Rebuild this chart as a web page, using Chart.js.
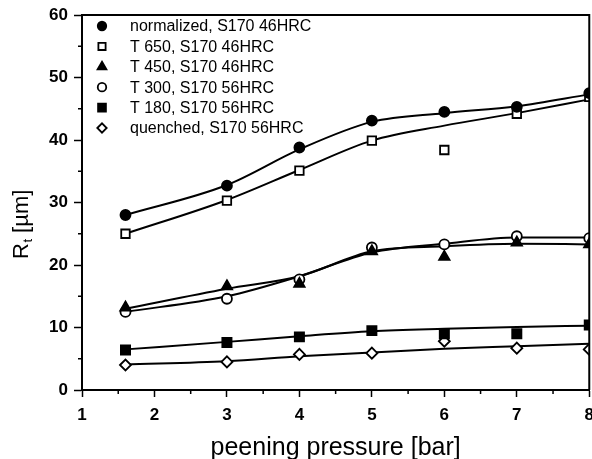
<!DOCTYPE html>
<html><head><meta charset="utf-8">
<script src="https://cdn.jsdelivr.net/npm/chart.js@4/dist/chart.umd.min.js"></script>
<style>html,body{margin:0;padding:0;background:#fff;overflow:hidden}#wrap{width:592px;height:459px;position:relative;overflow:hidden}canvas{display:block}</style>
</head><body><div id="wrap"><canvas id="c" width="592" height="459"></canvas></div>
<script>
// ---- data ----
const pressure = [1.6, 3, 4, 5, 6, 7, 8];
const seriesNames = ["normalized, S170 46HRC", "T 650, S170 46HRC", "T 450, S170 46HRC",
                     "T 300, S170 56HRC", "T 180, S170 56HRC", "quenched, S170 56HRC"];
const normalized = [28.0, 32.7, 38.8, 43.1, 44.5, 45.3, 47.5];
const t650       = [25.0, 30.3, 35.1, 39.9, 38.4, 44.2, 46.9];
const t450       = [13.2, 16.6, 17.0, 22.2, 21.3, 23.6, 23.3];
const t300       = [12.5, 14.6, 17.7, 22.8, 23.3, 24.6, 24.3];
const t180       = [6.4, 7.6, 8.5, 9.5, 9.0, 9.0, 10.4];
const quenched   = [4.0, 4.5, 5.7, 5.9, 7.8, 6.7, 6.5];
// fitted curves (values of each curve at the same pressures)
const fitNormalized = [28.0, 32.8, 38.5, 42.9, 44.3, 45.4, 47.3];
const fitT650       = [25.0, 30.4, 35.2, 39.9, 42.3, 44.3, 46.5];
const fitT450       = [13.0, 16.2, 18.2, 22.2, 23.0, 23.4, 23.3];
const fitT300       = [12.5, 15.0, 18.2, 22.0, 23.4, 24.4, 24.4];
const fitT180       = [6.5, 7.7, 8.6, 9.4, 9.8, 10.1, 10.3];
const fitQuenched   = [4.1, 4.6, 5.4, 6.0, 6.6, 7.0, 7.4];
const xTickValues = [1, 2, 3, 4, 5, 6, 7, 8];
const yTickValues = [0, 10, 20, 30, 40, 50, 60];
const xTitle = "peening pressure [bar]";

// ---- build datasets ----
const pts = arr => arr.map((v, i) => ({x: pressure[i], y: v}));
const markerStyles = [
  {pointStyle: 'circle',  fill: '#000', radius: 5},
  {pointStyle: 'rect',    fill: '#fff', radius: 6},
  {pointStyle: 'triangle',fill: '#000', radius: 6},
  {pointStyle: 'circle',  fill: '#fff', radius: 5},
  {pointStyle: 'rect',    fill: '#000', radius: 6.5},
  {pointStyle: 'rectRot', fill: '#fff', radius: 5.5}
];
const pointSeries = [normalized, t650, t450, t300, t180, quenched];
const fitSeries = [fitNormalized, fitT650, fitT450, fitT300, fitT180, fitQuenched];
function buildDatasets() {
  const datasets = [];
  pointSeries.forEach((s, i) => {
    const m = markerStyles[i];
    datasets.push({
      label: seriesNames[i], data: pts(s), showLine: false, order: 1,
      pointStyle: m.pointStyle, pointRadius: m.radius, pointHoverRadius: m.radius,
      pointBackgroundColor: m.fill, pointBorderColor: '#000', pointBorderWidth: 1.8,
      clip: {left: 8, top: 8, right: 0, bottom: 8}
    });
  });
  fitSeries.forEach((s, i) => {
    datasets.push({
      label: 'fit ' + seriesNames[i], data: pts(s), showLine: true, order: 2,
      pointRadius: 0, borderColor: '#000', borderWidth: 2,
      cubicInterpolationMode: 'monotone', fill: false
    });
  });
  return datasets;
}

const FONT = "'Liberation Sans', Arial, Helvetica, sans-serif";
const PLOT_RIGHT = 589;

const extras = {
  id: 'extras',
  afterDraw(chart) {
    const ctx = chart.ctx, a = chart.chartArea;
    const xs = chart.scales.x, ys = chart.scales.y;
    ctx.save();
    ctx.strokeStyle = '#000';
    ctx.lineWidth = 2;
    ctx.beginPath();
    ctx.moveTo(a.left, a.top); ctx.lineTo(a.right, a.top); ctx.lineTo(a.right, a.bottom);
    ctx.stroke();
    ctx.lineWidth = 1.5;
    ctx.beginPath();
    for (let i = 0; i < xTickValues.length - 1; i++) {
      const px = xs.getPixelForValue((xTickValues[i] + xTickValues[i + 1]) / 2);
      ctx.moveTo(px, a.bottom); ctx.lineTo(px, a.bottom + 4);
    }
    for (let i = 0; i < yTickValues.length - 1; i++) {
      const py = ys.getPixelForValue((yTickValues[i] + yTickValues[i + 1]) / 2);
      ctx.moveTo(a.left, py); ctx.lineTo(a.left - 4, py);
    }
    ctx.stroke();
    // legend inside the plot
    const lx = a.left + 20, tx = a.left + 48;
    ctx.font = "16px " + FONT;
    ctx.textBaseline = 'middle';
    seriesNames.forEach((name, i) => {
      const y = a.top + 11 + i * 20.4;
      const m = markerStyles[i];
      ctx.fillStyle = m.fill; ctx.strokeStyle = '#000'; ctx.lineWidth = 1.8;
      Chart.helpers.drawPoint(ctx, {pointStyle: m.pointStyle, radius: m.radius * 0.85, rotation: 0, borderWidth: 1.8}, lx, y);
      ctx.fillStyle = '#000';
      ctx.fillText(name, tx, y + 1);
    });
    // y axis title R_t [µm]
    ctx.save();
    ctx.translate(28, 259);
    ctx.rotate(-Math.PI / 2);
    ctx.textBaseline = 'alphabetic';
    ctx.textAlign = 'left';
    ctx.font = "22px " + FONT;
    ctx.fillText('R', 0, 0);
    let w = ctx.measureText('R').width;
    ctx.font = "13px " + FONT;
    ctx.fillText('t', w + 0.5, 4);
    w += ctx.measureText('t').width + 0.5;
    ctx.font = "22px " + FONT;
    ctx.fillText(' [\u00b5m]', w, 0);
    ctx.restore();
    ctx.restore();
  }
};

function makeChart(canvas) {
  return new Chart(canvas, {
    type: 'scatter',
    data: {datasets: buildDatasets()},
    options: {
      responsive: false, animation: false, events: [],
      layout: {padding: {top: 15, right: 3, left: 0, bottom: 0}},
      plugins: {legend: {display: false}, tooltip: {enabled: false}},
      scales: {
        x: {
          type: 'linear', min: 1, max: 8,
          afterBuildTicks(scale) { scale.ticks = xTickValues.map(v => ({value: v})); },
          afterFit(scale) { scale.height = 69; },
          ticks: {color: '#000', font: {family: FONT, size: 17, weight: 'bold'}, padding: 8, maxRotation: 0},
          grid: {drawOnChartArea: false, drawTicks: true, tickLength: 7, tickColor: '#000', tickWidth: 1.5},
          border: {display: true, color: '#000', width: 2},
          title: {display: true, text: xTitle, color: '#000', font: {family: FONT, size: 25, lineHeight: 0.86}, padding: {top: 0, bottom: 0}}
        },
        y: {
          type: 'linear', min: 0, max: 60,
          afterBuildTicks(scale) { scale.ticks = yTickValues.map(v => ({value: v})); },
          afterFit(scale) { scale.width = 82; },
          ticks: {color: '#000', font: {family: FONT, size: 17, weight: 'bold', lineHeight: 1.06}, padding: 6},
          grid: {drawOnChartArea: false, drawTicks: true, tickLength: 8, tickColor: '#000', tickWidth: 1.5},
          border: {display: true, color: '#000', width: 2}
        }
      }
    },
    plugins: [extras]
  });
}

const canvas = document.getElementById('c');
let chart = makeChart(canvas);
// the last x tick label reserves room on the right; widen the (clipped) canvas so the plot frame ends at PLOT_RIGHT
const extra = Math.round(PLOT_RIGHT - chart.chartArea.right);
if (extra > 0) {
  chart.destroy();
  canvas.width = 592 + extra;
  canvas.height = 459;
  canvas.style.width = (592 + extra) + 'px';
  canvas.style.height = '459px';
  chart = makeChart(canvas);
}
</script></body></html>
